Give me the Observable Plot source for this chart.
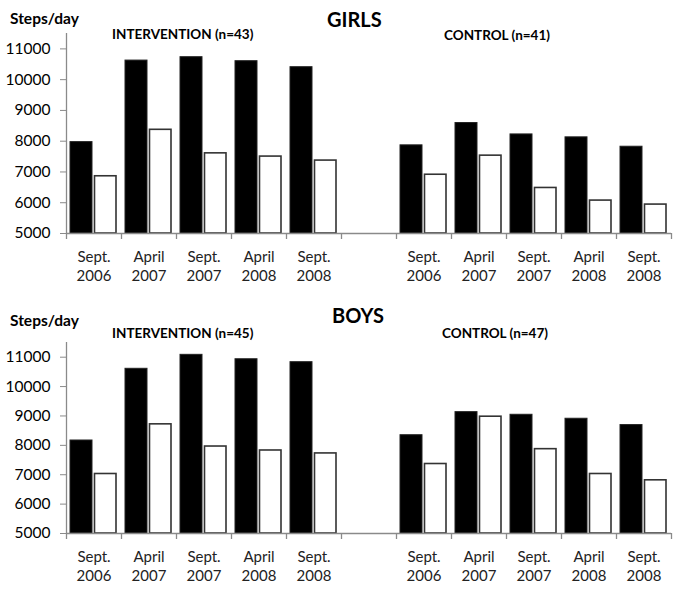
<!DOCTYPE html>
<html>
<head>
<meta charset="utf-8">
<script src="https://cdn.jsdelivr.net/npm/d3@7"></script>
<script src="https://cdn.jsdelivr.net/npm/@observablehq/plot@0.6"></script>
<style>
  body { margin: 0; background: #fff; font-family: Lato, "Open Sans", sans-serif; }
  #wrap { position: relative; width: 685px; height: 596px; }
  .panel { position: absolute; left: 0; }
  .lbl { position: absolute; font-weight: bold; color: #000; white-space: nowrap; line-height: 1; }
</style>
</head>
<body>
<div id="wrap"></div>
<script>
// ---- data ----
const timeLabels = ["Sept.\n2006", "April\n2007", "Sept.\n2007", "April\n2008", "Sept.\n2008"];
const yTicks = [5000, 6000, 7000, 8000, 9000, 10000, 11000];

const girlsInterventionBlack = [7970, 10620, 10730, 10600, 10405];
const girlsInterventionWhite = [6860, 8370, 7605, 7500, 7370];
const girlsControlBlack = [7865, 8590, 8220, 8125, 7820];
const girlsControlWhite = [6910, 7530, 6480, 6070, 5940];

const boysInterventionBlack = [8165, 10605, 11080, 10930, 10830];
const boysInterventionWhite = [7025, 8715, 7960, 7825, 7725];
const boysControlBlack = [8345, 9130, 9040, 8905, 8690];
const boysControlWhite = [7365, 8975, 7870, 7025, 6810];

const panels = [
  {title: "GIRLS", inter: "INTERVENTION (n=43)", ctrl: "CONTROL (n=41)",
   ib: girlsInterventionBlack, iw: girlsInterventionWhite, cb: girlsControlBlack, cw: girlsControlWhite},
  {title: "BOYS", inter: "INTERVENTION (n=45)", ctrl: "CONTROL (n=47)",
   ib: boysInterventionBlack, iw: boysInterventionWhite, cb: boysControlBlack, cw: boysControlWhite}
];

// ---- layout ----
const W = 685;
const layout = [
  {top: 0, height: 290, marginTop: 33, marginBottom: 57},
  {top: 300, height: 296, marginTop: 42, marginBottom: 63}
];
const marginLeft = 66, marginRight = 14;
const bw = (W - marginLeft - marginRight) / 11;

const keys = [...timeLabels.map((t, i) => "I" + i), "gap", ...timeLabels.map((t, i) => "C" + i)];
const labelOf = k => k === "gap" ? "" : timeLabels[+k.slice(1)];

const wrap = document.getElementById("wrap");

panels.forEach((p, pi) => {
  const L = layout[pi];
  const rows = [];
  timeLabels.forEach((t, i) => {
    rows.push({key: "I" + i, series: "black", value: p.ib[i]});
    rows.push({key: "I" + i, series: "white", value: p.iw[i]});
    rows.push({key: "C" + i, series: "black", value: p.cb[i]});
    rows.push({key: "C" + i, series: "white", value: p.cw[i]});
  });
  const blacks = rows.filter(r => r.series === "black");
  const whites = rows.filter(r => r.series === "white");

  const chart = Plot.plot({
    width: W,
    height: L.height,
    marginLeft, marginRight,
    marginTop: L.marginTop,
    marginBottom: L.marginBottom,
    style: {fontFamily: "Lato, 'Open Sans', sans-serif", background: "#fff"},
    x: {type: "band", domain: keys, padding: 0, axis: null},
    y: {domain: [5000, 11500], axis: null},
    marks: [
      Plot.barY(blacks, {x: "key", y1: 5000, y2: "value", fill: "#000", stroke: "#222", strokeWidth: 1,
        insetLeft: 4, insetRight: 29}),
      Plot.barY(whites, {x: "key", y1: 5000, y2: "value", fill: "#fff", stroke: "#333", strokeWidth: 1.6,
        insetLeft: 28.5, insetRight: 5}),
      // axis lines
      Plot.ruleY([5000], {stroke: "#8a8a8a", strokeWidth: 1.3}),
      Plot.ruleX([keys[0]], {x: d => d, dx: -bw / 2, stroke: "#8a8a8a", strokeWidth: 1.3}),
      // category boundary ticks
      Plot.ruleX(keys, {x: d => d, dx: -bw / 2, y1: 5000, y2: 5000, insetBottom: -6, stroke: "#8a8a8a", strokeWidth: 1.3}),
      Plot.ruleX([keys[keys.length - 1]], {x: d => d, dx: bw / 2, y1: 5000, y2: 5000, insetBottom: -6, stroke: "#8a8a8a", strokeWidth: 1.3}),
      // y axis
      Plot.axisY(yTicks, {anchor: "left", tickSize: 6, tickPadding: 10, stroke: "#8a8a8a",
        fontSize: 15.5, fill: "#000", label: null, tickFormat: d => String(d)}),
      // x labels
      Plot.axisX(keys, {anchor: "bottom", tickSize: 0, tickPadding: 15, fontSize: 15, fill: "#222",
        lineHeight: 1.25, label: null, tickFormat: labelOf})
    ]
  });
  chart.classList.add("panel");
  chart.style.top = L.top + "px";
  wrap.appendChild(chart);

  const addLabel = (text, left, top, size) => {
    const d = document.createElement("div");
    d.className = "lbl";
    d.textContent = text;
    d.style.left = left + "px";
    d.style.top = (L.top + top) + "px";
    d.style.fontSize = size + "px";
    wrap.appendChild(d);
  };
  addLabel("Steps/day", 10, pi === 0 ? 11 : 13, 15.5);
  addLabel(p.title, pi === 0 ? 327 : 332, pi === 0 ? 9 : 5, 20);
  addLabel(p.inter, 112, pi === 0 ? 28 : 27, 13.5);
  addLabel(p.ctrl, pi === 0 ? 444 : 442, pi === 0 ? 29 : 27, 13.5);
});
</script>
</body>
</html>
